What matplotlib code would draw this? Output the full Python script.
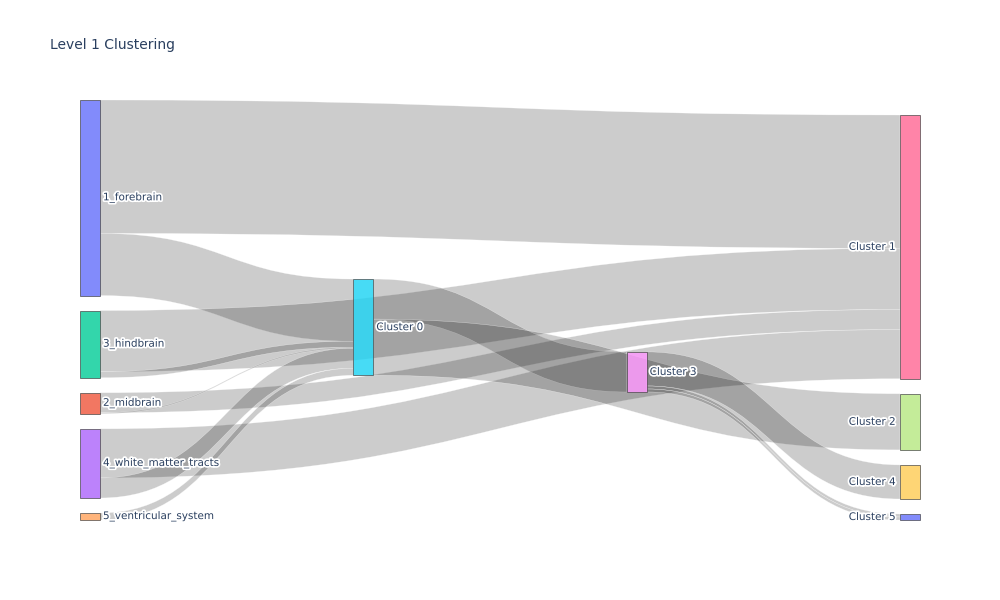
import matplotlib
matplotlib.use("Agg")
import matplotlib.pyplot as plt
import matplotlib.patheffects as pe
from matplotlib.path import Path
from matplotlib.patches import PathPatch, Rectangle

# Nodes (in input order, plotly colorway picks colours by index)
labels = ["1_forebrain", "2_midbrain", "3_hindbrain", "4_white_matter_tracts",
          "5_ventricular_system", "Cluster 0", "Cluster 1", "Cluster 2",
          "Cluster 3", "Cluster 4", "Cluster 5"]
node_colors = ["#636efa", "#EF553B", "#00cc96", "#ab63fa", "#FFA15A", "#19d3f3",
               "#FF6692", "#B6E880", "#FF97FF", "#FECB52", "#636efa"]

# Links
sources = [0, 0, 2, 2, 1, 1, 3, 3, 4, 5, 5, 8, 8, 8]
targets = [6, 5, 6, 5, 6, 5, 6, 5, 5, 8, 7, 9, 10, 10]
values = [133, 62, 61, 6, 20, 1, 49, 20, 7, 40, 56, 34, 3, 3]

# Layout settings (pixels)
W, H = 1000, 600
left, top, pw, ph = 80, 100, 840, 420
thick, pad = 20, 15
# vertical order inside each column and where the column sits in the free space
col_order = [[0, 2, 1, 3, 4], [5], [8], [6, 7, 9, 10]]
col_align = [0.0, 0.553, 0.663, 1.0]

n = len(labels)
val_in = [0] * n
val_out = [0] * n
for s, t, v in zip(sources, targets, values):
    val_out[s] += v
    val_in[t] += v
node_val = [max(a, b) for a, b in zip(val_in, val_out)]

ncol = len(col_order)
ky = min((ph - (len(c) - 1) * pad) / sum(node_val[i] for i in c) for c in col_order)
dx = (pw - thick) / (ncol - 1)

x0 = [0.0] * n
y0 = [0.0] * n
y1 = [0.0] * n
for ci, col in enumerate(col_order):
    used = sum(node_val[i] for i in col) * ky + (len(col) - 1) * pad
    y = top + (ph - used) * col_align[ci]
    for i in col:
        x0[i] = left + ci * dx
        y0[i] = y
        y1[i] = y + node_val[i] * ky
        y = y1[i] + pad

# stack links on each node side
links = list(range(len(values)))
src_y = {}
tgt_y = {}
for i in range(n):
    outs = sorted([k for k in links if sources[k] == i], key=lambda k: y0[targets[k]])
    y = y0[i]
    for k in outs:
        src_y[k] = y
        y += values[k] * ky
    ins = sorted([k for k in links if targets[k] == i], key=lambda k: y0[sources[k]])
    y = y0[i]
    for k in ins:
        tgt_y[k] = y
        y += values[k] * ky

fig = plt.figure(figsize=(W / 100, H / 100), dpi=100)
ax = fig.add_axes([0, 0, 1, 1])
ax.set_xlim(0, W)
ax.set_ylim(H, 0)
ax.axis("off")

for k in links:
    s, t = sources[k], targets[k]
    xa = x0[s] + thick
    xb = x0[t]
    xm = (xa + xb) / 2
    h = values[k] * ky
    ya, yb = src_y[k], tgt_y[k]
    verts = [(xa, ya), (xm, ya), (xm, yb), (xb, yb),
             (xb, yb + h), (xm, yb + h), (xm, ya + h), (xa, ya + h), (xa, ya)]
    codes = [Path.MOVETO, Path.CURVE4, Path.CURVE4, Path.CURVE4,
             Path.LINETO, Path.CURVE4, Path.CURVE4, Path.CURVE4, Path.CLOSEPOLY]
    ax.add_patch(PathPatch(Path(verts, codes), facecolor=(0, 0, 0, 0.2),
                           edgecolor=(1, 1, 1, 0.6), linewidth=0.3))

halo = [pe.withStroke(linewidth=2.5, foreground="white")]
for i in range(n):
    ax.add_patch(Rectangle((x0[i], y0[i]), thick, y1[i] - y0[i],
                           facecolor=node_colors[i], alpha=0.8,
                           edgecolor="#444444", linewidth=0.6))
    yc = (y0[i] + y1[i]) / 2
    if x0[i] + thick >= left + pw - 1:
        ax.text(x0[i] - 4, yc, labels[i], ha="right", va="center", fontsize=7.5,
                color="#2a3f5f", path_effects=halo)
    else:
        ax.text(x0[i] + thick + 3, yc, labels[i], ha="left", va="center", fontsize=7.5,
                color="#2a3f5f", path_effects=halo)

ax.text(50, 45, "Level 1 Clustering", ha="left", va="center", fontsize=10,
        color="#2a3f5f")

fig.savefig("out.png", dpi=100)
